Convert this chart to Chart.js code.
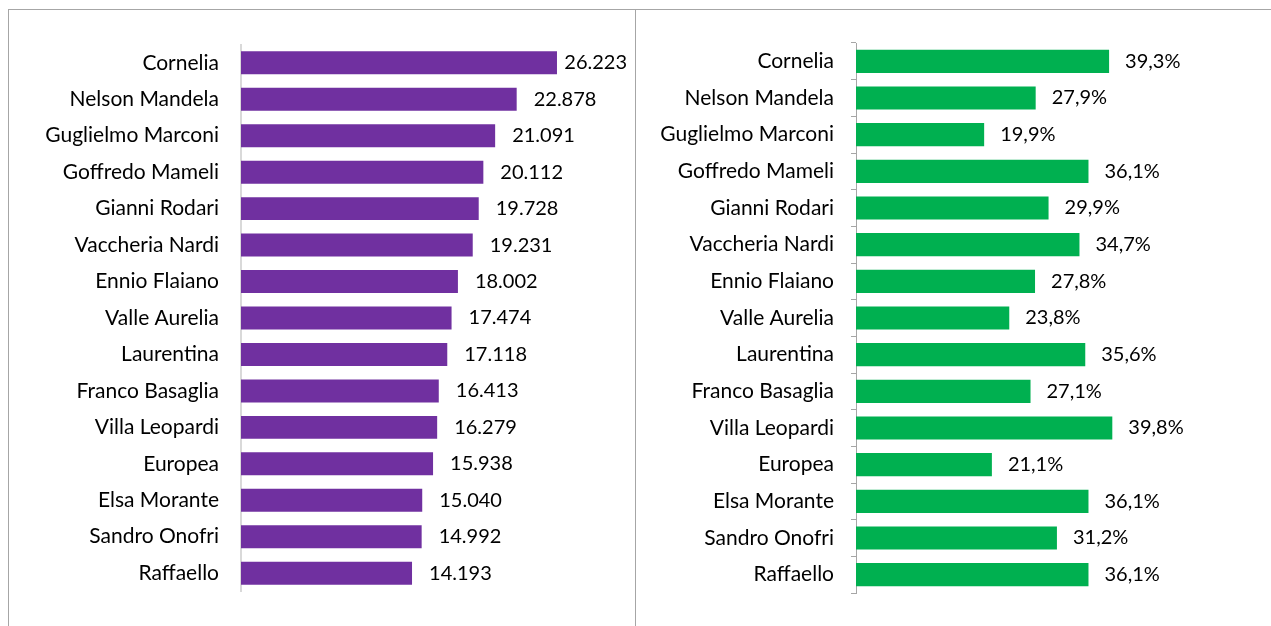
<!DOCTYPE html>
<html>
<head>
<meta charset="utf-8">
<script src="https://cdn.jsdelivr.net/npm/chart.js@4/dist/chart.umd.min.js"></script>
<style>
  html, body { margin: 0; padding: 0; background: #fff; }
  #wrap { position: relative; width: 1271px; height: 626px; overflow: hidden; }
  #frame { position: absolute; left: 8px; top: 9px; width: 1280px; height: 700px;
           border-left: 1px solid #a6a6a6; border-top: 1px solid #a6a6a6; }
  #divider { position: absolute; left: 635px; top: 9px; width: 1px; height: 620px; background: #a6a6a6; }
  #c1 { position: absolute; left: 9px; top: 10px; }
  #c2 { position: absolute; left: 637px; top: 10px; }
</style>
</head>
<body>
<div id="wrap">
  <div id="frame"></div>
  <div id="divider"></div>
  <canvas id="c1" width="626" height="616"></canvas>
  <canvas id="c2" width="634" height="616"></canvas>
</div>
<script>
// categorie (stazioni)
const stazioniA = ["Cornelia", "Nelson Mandela", "Guglielmo Marconi", "Goffredo Mameli", "Gianni Rodari",
  "Vaccheria Nardi", "Ennio Flaiano", "Valle Aurelia", "Laurentina", "Franco Basaglia",
  "Villa Leopardi", "Europea", "Elsa Morante", "Sandro Onofri", "Raffaello"];
const utenti = [26223, 22878, 21091, 20112, 19728, 19231, 18002, 17474, 17118, 16413, 16279, 15938, 15040, 14992, 14193];

const stazioniB = ["Cornelia", "Nelson Mandela", "Guglielmo Marconi", "Goffredo Mameli", "Gianni Rodari",
  "Vaccheria Nardi", "Ennio Flaiano", "Valle Aurelia", "Laurentina", "Franco Basaglia",
  "Villa Leopardi", "Europea", "Elsa Morante", "Sandro Onofri", "Raffaello"];
const percentuali = [39.3, 27.9, 19.9, 36.1, 29.9, 34.7, 27.8, 23.8, 35.6, 27.1, 39.8, 21.1, 36.1, 31.2, 36.1];

const FONT = "Lato";
const SIZE = 21;

function migliaia(v) {
  return String(v).replace(/\B(?=(\d{3})+(?!\d))/g, ".");
}
function percento(v) {
  return v.toFixed(1).replace(".", ",") + "%";
}

// scrive il valore a destra di ogni barra (senza uscire dal riquadro)
function etichette(fmt, gap, limite) {
  return {
    id: "etichette",
    afterDatasetsDraw(chart) {
      const ctx = chart.ctx;
      const meta = chart.getDatasetMeta(0);
      ctx.save();
      ctx.font = "20px " + FONT;
      ctx.fillStyle = "#000";
      ctx.textAlign = "left";
      ctx.textBaseline = "middle";
      meta.data.forEach((bar, i) => {
        const t = fmt(chart.data.datasets[0].data[i]);
        let x = Math.min(bar.x + gap, limite - ctx.measureText(t).width);
        x = Math.max(x, bar.x + 7);
        ctx.fillText(t, x, bar.y);
      });
      ctx.restore();
    }
  };
}

Chart.defaults.font.family = FONT;
Chart.defaults.color = "#000";

new Chart(document.getElementById("c1"), {
  type: "bar",
  data: {
    labels: stazioniA,
    datasets: [{ data: utenti, backgroundColor: "#7030A0", barPercentage: 0.63, categoryPercentage: 1 }]
  },
  options: {
    indexAxis: "y",
    responsive: false,
    animation: false,
    layout: { padding: { top: 33, bottom: 33, left: 0, right: 32.5 } },
    plugins: { legend: { display: false }, tooltip: { enabled: false } },
    scales: {
      x: { display: false, min: 0, max: 30000 },
      y: {
        afterFit(s) { s.width = 232; },
        grid: { display: true, drawOnChartArea: false, drawTicks: false },
        border: { color: "#d9d9d9", width: 2 },
        ticks: { font: { size: SIZE }, padding: 22 }
      }
    }
  },
  plugins: [etichette(migliaia, 17, 618)]
});

new Chart(document.getElementById("c2"), {
  type: "bar",
  data: {
    labels: stazioniB,
    datasets: [{ data: percentuali, backgroundColor: "#00B050", barPercentage: 0.63, categoryPercentage: 1 }]
  },
  options: {
    indexAxis: "y",
    responsive: false,
    animation: false,
    layout: { padding: { top: 33, bottom: 33, left: 0, right: 125.2 } },
    plugins: { legend: { display: false }, tooltip: { enabled: false } },
    scales: {
      x: { display: false, min: 0, max: 45 },
      y: {
        afterFit(s) { s.width = 219; },
        grid: { display: true, drawOnChartArea: false, tickLength: 5, color: "#a6a6a6" },
        border: { color: "#a6a6a6", width: 1 },
        ticks: { font: { size: SIZE }, padding: 17 }
      }
    }
  },
  plugins: [etichette(percento, 16, 634)]
});
</script>
</body>
</html>
